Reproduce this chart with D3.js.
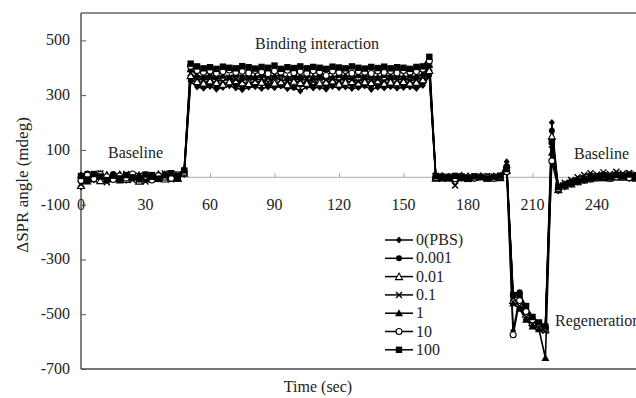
<!DOCTYPE html>
<html>
<head>
<meta charset="utf-8">
<script src="https://cdn.jsdelivr.net/npm/d3@7"></script>
<style>
  body { margin: 0; background: #fff; }
</style>
</head>
<body>
<div class="chart"></div>
<script>
var svgWidth = 636;
var svgHeight = 398;

// time points (sec)
var times = [0, 3, 6, 9, 12, 15, 18, 21, 24, 27, 30, 33, 36, 39, 42, 45, 48,
  51, 54, 57, 60, 63, 66, 69, 72, 75, 78, 81, 84, 87, 90, 93, 96, 99, 102, 105, 108,
  111, 114, 117, 120, 123, 126, 129, 132, 135, 138, 141, 144, 147, 150, 153, 156, 159, 162,
  165, 168, 171, 174, 177, 180, 183, 186, 189, 192, 195,
  198, 201, 204, 207, 210, 213, 216, 219, 222,
  225, 228, 231, 234, 237, 240, 243, 246, 249, 252, 255, 258, 261, 264, 267];

var seriesNames = ["0(PBS)", "0.001", "0.01", "0.1", "1", "10", "100"];
var seriesMarkers = ["diamond", "dot", "triangleOpen", "cross", "triangle", "circleOpen", "square"];

var pbs = [-35, 5, -10, 8, 2, -6, 10, -12, 4, -3, 9, -8, 2, 6, -5, 3, 10,
  350, 330, 325, 332, 322, 328, 334, 326, 320, 329, 331, 324, 330, 327, 333, 323, 328, 315, 331, 326,
  329, 322, 332, 327, 330, 324, 328, 333, 321, 329, 326, 331, 325, 328, 330, 324, 335, 370,
  0, 3, -2, 4, -3, 1, -4, 2, -1, 3, 0,
  57, -560, -440, -500, -530, -540, -545, 200, -50,
  -35, -25, -18, -12, -7, -3, 1, -2, 3, -1, 4, 0, 2, -3, 1];

var c0001 = [-10, 14, -3, 6, -9, 12, -5, 2, 8, -12, 3, 9, -7, 4, 10, -2, 12,
  360, 340, 335, 342, 333, 338, 344, 336, 331, 340, 337, 343, 334, 339, 335, 341, 328, 338, 342, 335,
  340, 333, 337, 343, 336, 339, 332, 341, 335, 338, 343, 334, 339, 336, 341, 335, 345, 380,
  2, -3, 4, -1, 2, -5, 3, 0, 4, -2, 1,
  40, -430, -420, -480, -520, -540, -550, 170, -35,
  -24, -16, -10, -6, -2, 2, -3, 5, 0, 3, -4, 4, 1, -2, 3];

var c001 = [-30, -5, 6, -12, 8, -4, 10, -8, 3, -14, 7, -2, 11, -6, 5, -3, 15,
  372, 350, 344, 352, 346, 340, 349, 353, 345, 342, 350, 347, 352, 344, 349, 338, 351, 346, 343, 350,
  345, 348, 352, 341, 347, 350, 344, 349, 346, 352, 343, 348, 345, 350, 344, 347, 356, 390,
  -3, 4, -2, 1, 5, -4, 0, 3, -3, 2, -1,
  25, -450, -460, -500, -530, -545, -555, 150, -45,
  -32, -24, -16, -10, -5, -1, 4, -2, 6, 0, 3, -3, 5, 2, -1];

var c01 = [-25, 10, -8, 15, -18, 5, -3, 12, -10, 6, -15, 8, -2, 14, -7, 10, 22,
  380, 360, 354, 362, 356, 350, 364, 357, 353, 361, 355, 359, 348, 362, 356, 352, 360, 354, 358, 350,
  363, 355, 359, 353, 361, 356, 350, 360, 354, 358, 352, 362, 355, 359, 353, 357, 365, 400,
  6, -5, 2, -30, 3, -6, 4, -2, 5, -3, 2,
  35, -440, -470, -510, -535, -550, -560, 120, -30,
  -20, -10, 0, 8, 15, 10, 18, 12, 20, 14, 16, 10, 18, 12, 15];

var c1 = [8, -15, 4, 14, -6, 2, -12, 6, -2, 9, -8, 5, -4, 12, 3, -5, 30,
  395, 372, 366, 374, 368, 371, 365, 376, 369, 372, 366, 374, 368, 370, 375, 364, 371, 368, 373, 366,
  372, 369, 365, 374, 370, 367, 373, 368, 371, 365, 374, 369, 372, 366, 371, 368, 378, 410,
  3, -4, 2, 0, -3, 5, -1, 3, -2, 1, 4,
  45, -460, -480, -520, -545, -555, -660, 90, -38,
  -26, -18, -12, -7, -4, 0, -3, 4, -1, 6, 2, -2, 5, 1, 3];

var c10 = [-12, 8, -5, 10, 2, -8, 5, -3, 12, -6, 4, -10, 6, 0, -4, 9, 18,
  405, 390, 384, 388, 380, 386, 392, 383, 387, 381, 390, 385, 378, 388, 384, 391, 382, 386, 380, 389,
  385, 372, 388, 383, 390, 380, 386, 384, 379, 388, 383, 387, 381, 390, 384, 386, 395, 425,
  -2, 3, 0, -5, 4, 1, -3, 2, 0, -4, 3,
  20, -575, -450, -490, -520, -535, -550, 60, -42,
  -30, -22, -15, -10, -6, -2, 3, -4, 1, 5, -2, 6, 0, 4, -3];

var c100 = [5, -8, 12, 3, -10, 6, -4, 8, 0, -6, 10, 2, -5, 7, 15, 4, 25,
  415, 405, 398, 402, 396, 404, 400, 398, 406, 402, 397, 403, 400, 408, 396, 402, 399, 405, 398, 403,
  400, 396, 404, 401, 398, 405, 400, 397, 403, 399, 404, 398, 402, 400, 396, 403, 405, 440,
  4, 2, -3, 5, 0, -2, 3, 1, -4, 2, 6,
  30, -430, -430, -470, -510, -530, -545, 130, -36,
  -28, -20, -14, -8, -3, 2, 6, 0, 8, 3, 10, 4, 7, 2, 5];

var seriesValues = [pbs, c0001, c001, c01, c1, c10, c100];

var xTicks = [0, 30, 60, 90, 120, 150, 180, 210, 240];
var yTicks = [500, 300, 100, -100, -300, -500, -700];

var svg = d3.select(".chart")
  .append("svg")
  .attr("width", svgWidth)
  .attr("height", svgHeight)
  .attr("font-family", "'Liberation Serif', 'DejaVu Serif', serif")
  .style("font-family", "'Liberation Serif', 'DejaVu Serif', serif");

// plot frame; right side is cut off in the picture
var plotLeft = 81, plotTop = 13, plotBottom = 369;

var xScale = d3.scaleLinear().domain([0, 270]).range([plotLeft, plotLeft + 9 * 64.5]);
var yScale = d3.scaleLinear().domain([-700, 600]).range([plotBottom, plotTop]);

var frame = svg.append("g");
frame.append("line")
  .attr("x1", plotLeft).attr("x2", svgWidth).attr("y1", plotTop).attr("y2", plotTop)
  .attr("stroke", "#666").attr("stroke-width", 1.5);
frame.append("line")
  .attr("x1", plotLeft).attr("x2", svgWidth).attr("y1", plotBottom).attr("y2", plotBottom)
  .attr("stroke", "#777").attr("stroke-width", 2);
frame.append("line")
  .attr("x1", plotLeft).attr("x2", plotLeft).attr("y1", plotTop).attr("y2", plotBottom)
  .attr("stroke", "#555").attr("stroke-width", 1.5);

// y axis ticks (inward) and labels
var yAxis = svg.append("g")
  .attr("transform", `translate(${plotLeft}, 0)`)
  .call(d3.axisRight(yScale).tickValues(yTicks).tickSize(5).tickFormat(""));
yAxis.select(".domain").remove();
yAxis.selectAll("line").attr("stroke", "#555");

svg.append("g").selectAll("text")
  .data(yTicks)
  .enter()
  .append("text")
  .attr("x", 70)
  .attr("y", d => yScale(d) + 5)
  .attr("text-anchor", "end")
  .attr("fill", "#222")
  .style("font-size", "16px")
  .text(d => d);

// x axis sits on the zero line
svg.append("line")
  .attr("x1", plotLeft).attr("x2", svgWidth)
  .attr("y1", yScale(0)).attr("y2", yScale(0))
  .attr("stroke", "#bbb").attr("stroke-width", 1.2);
var xAxis = svg.append("g")
  .attr("transform", `translate(0, ${yScale(0)})`)
  .call(d3.axisTop(xScale).tickValues(xTicks.slice(1)).tickSize(4).tickFormat(""));
xAxis.select(".domain").remove();
xAxis.selectAll("line").attr("stroke", "#aaa");

svg.append("g").selectAll("text")
  .data(xTicks)
  .enter()
  .append("text")
  .attr("x", d => xScale(d))
  .attr("y", yScale(0) + 33)
  .attr("text-anchor", "middle")
  .attr("fill", "#222")
  .style("font-size", "16px")
  .text(d => d);

// marker drawing
function drawMarker(g, kind, x, y) {
  if (kind === "diamond") {
    g.append("path").attr("d", `M${x},${y - 3.5}L${x + 3},${y}L${x},${y + 3.5}L${x - 3},${y}Z`).attr("fill", "#000");
  } else if (kind === "dot") {
    g.append("circle").attr("cx", x).attr("cy", y).attr("r", 3).attr("fill", "#000");
  } else if (kind === "triangleOpen") {
    g.append("path").attr("d", `M${x},${y - 3.5}L${x + 3.5},${y + 3}L${x - 3.5},${y + 3}Z`)
      .attr("fill", "#fff").attr("stroke", "#000").attr("stroke-width", 1.1);
  } else if (kind === "cross") {
    g.append("path").attr("d", `M${x - 3},${y - 3}L${x + 3},${y + 3}M${x - 3},${y + 3}L${x + 3},${y - 3}`)
      .attr("stroke", "#000").attr("stroke-width", 1.4);
  } else if (kind === "triangle") {
    g.append("path").attr("d", `M${x},${y - 4}L${x + 4},${y + 3}L${x - 4},${y + 3}Z`).attr("fill", "#000");
  } else if (kind === "circleOpen") {
    g.append("circle").attr("cx", x).attr("cy", y).attr("r", 3)
      .attr("fill", "#fff").attr("stroke", "#000").attr("stroke-width", 1.1);
  } else {
    g.append("rect").attr("x", x - 3.2).attr("y", y - 3.2).attr("width", 6.4).attr("height", 6.4).attr("fill", "#000");
  }
}

svg.append("clipPath").attr("id", "plot-clip")
  .append("rect").attr("x", plotLeft - 5).attr("y", plotTop).attr("width", svgWidth).attr("height", plotBottom - plotTop);

var plot = svg.append("g").attr("clip-path", "url(#plot-clip)");

var line = d3.line()
  .x((d, i) => xScale(times[i]))
  .y(d => yScale(d));

seriesValues.forEach(function(vals) {
  plot.append("path")
    .datum(vals)
    .attr("d", line)
    .attr("fill", "none")
    .attr("stroke", "#000")
    .attr("stroke-width", 1.6);
});

seriesValues.forEach(function(vals, k) {
  var g = plot.append("g");
  vals.forEach(function(v, i) {
    drawMarker(g, seriesMarkers[k], xScale(times[i]), yScale(v));
  });
});

// legend
var legend = svg.append("g").attr("transform", "translate(385, 240)");
seriesNames.forEach(function(name, k) {
  var ly = k * 18.3;
  legend.append("line")
    .attr("x1", 0).attr("x2", 28).attr("y1", ly).attr("y2", ly)
    .attr("stroke", "#000").attr("stroke-width", 1.5);
  drawMarker(legend, seriesMarkers[k], 14, ly);
  legend.append("text")
    .attr("x", 31)
    .attr("y", ly + 5)
    .attr("fill", "#222")
    .style("font-size", "16px")
    .text(name);
});

// annotations
svg.append("text").attr("x", 317).attr("y", 49).attr("text-anchor", "middle")
  .attr("fill", "#222").style("font-size", "16px").text("Binding interaction");
svg.append("text").attr("x", 108).attr("y", 158)
  .attr("fill", "#222").style("font-size", "16px").text("Baseline");
svg.append("text").attr("x", 574).attr("y", 159)
  .attr("fill", "#222").style("font-size", "16px").text("Baseline");
svg.append("text").attr("x", 555).attr("y", 326)
  .attr("fill", "#222").style("font-size", "16px").text("Regeneration");

// axis titles
svg.append("text")
  .attr("x", 318).attr("y", 392)
  .attr("text-anchor", "middle")
  .attr("fill", "#222")
  .style("font-size", "16px")
  .text("Time (sec)");
svg.append("text")
  .attr("transform", "translate(28, 185) rotate(-90)")
  .attr("text-anchor", "middle")
  .attr("fill", "#222")
  .style("font-size", "17px")
  .text("ΔSPR angle (mdeg)");
</script>
</body>
</html>
